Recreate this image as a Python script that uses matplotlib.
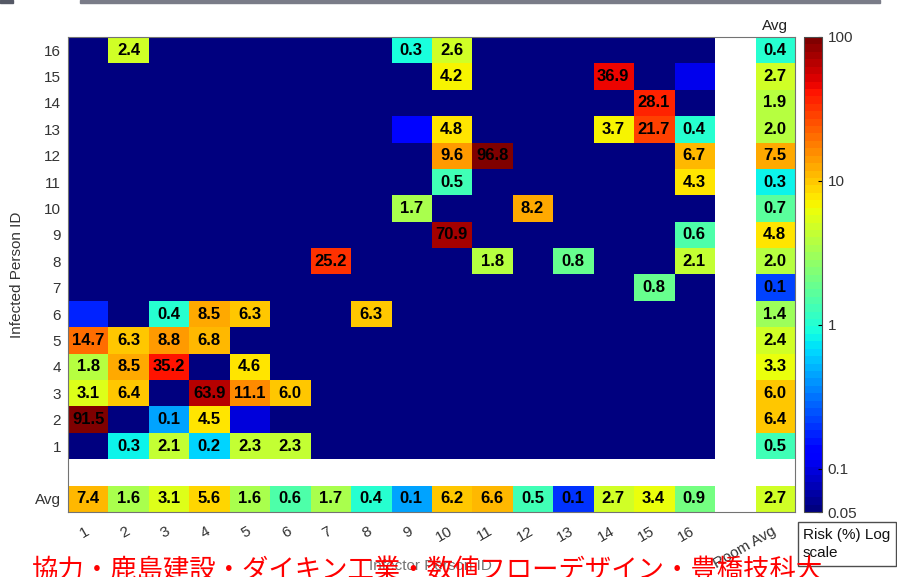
import numpy as np
import matplotlib.pyplot as plt
from matplotlib.colors import LogNorm
from matplotlib.cm import ScalarMappable
from matplotlib.patches import Rectangle
from matplotlib.ticker import NullLocator

plt.rcParams['font.family'] = ['Liberation Sans', 'Noto Sans CJK JP', 'DejaVu Sans']

# infector (columns) / infected (rows) ids
infector_ids = [str(i) for i in range(1, 17)]
infected_ids = [str(i) for i in range(16, 0, -1)]   # top -> bottom

# infection risk (%), rows = infected 16..1, cols = infector 1..16 (0 = none)
risk = [
    [0, 2.4, 0, 0, 0, 0, 0, 0, 0.32, 2.6, 0, 0, 0, 0, 0, 0],
    [0, 0, 0, 0, 0, 0, 0, 0, 0, 4.2, 0, 0, 0, 36.9, 0, 0.025],
    [0, 0, 0, 0, 0, 0, 0, 0, 0, 0, 0, 0, 0, 0, 28.1, 0],
    [0, 0, 0, 0, 0, 0, 0, 0, 0.035, 4.8, 0, 0, 0, 3.7, 21.7, 0.4],
    [0, 0, 0, 0, 0, 0, 0, 0, 0, 9.6, 96.8, 0, 0, 0, 0, 6.7],
    [0, 0, 0, 0, 0, 0, 0, 0, 0, 0.5, 0, 0, 0, 0, 0, 4.3],
    [0, 0, 0, 0, 0, 0, 0, 0, 1.7, 0, 0, 8.2, 0, 0, 0, 0],
    [0, 0, 0, 0, 0, 0, 0, 0, 0, 70.9, 0, 0, 0, 0, 0, 0.6],
    [0, 0, 0, 0, 0, 0, 25.2, 0, 0, 0, 1.8, 0, 0.8, 0, 0, 2.1],
    [0, 0, 0, 0, 0, 0, 0, 0, 0, 0, 0, 0, 0, 0, 0.8, 0],
    [0.045, 0, 0.4, 8.5, 6.3, 0, 0, 6.3, 0, 0, 0, 0, 0, 0, 0, 0],
    [14.7, 6.3, 8.8, 6.8, 0, 0, 0, 0, 0, 0, 0, 0, 0, 0, 0, 0],
    [1.8, 8.5, 35.2, 0, 4.6, 0, 0, 0, 0, 0, 0, 0, 0, 0, 0, 0],
    [3.1, 6.4, 0, 63.9, 11.1, 6.0, 0, 0, 0, 0, 0, 0, 0, 0, 0, 0],
    [91.5, 0, 0.14, 4.5, 0.022, 0, 0, 0, 0, 0, 0, 0, 0, 0, 0, 0],
    [0, 0.3, 2.1, 0.21, 2.3, 2.3, 0, 0, 0, 0, 0, 0, 0, 0, 0, 0],
]
row_avg = [0.4, 2.7, 1.9, 2.0, 7.5, 0.3, 0.7, 4.8, 2.0, 0.06, 1.4, 2.4, 3.3, 6.0, 6.4, 0.5]
col_avg = [7.4, 1.6, 3.1, 5.6, 1.6, 0.6, 1.7, 0.4, 0.14, 6.2, 6.6, 0.5, 0.055, 2.7, 3.4, 0.9]
room_avg = 2.7

# 18x18 grid with white gap row/column
grid = np.full((18, 18), np.nan)
grid[:16, :16] = risk
grid[:16, 17] = row_avg
grid[17, :16] = col_avg
grid[17, 17] = room_avg
shown = np.where(np.isnan(grid), np.nan, np.maximum(grid, 1e-4))

cmap = plt.get_cmap('jet', 64).copy()
cmap.set_bad('white')

fig = plt.figure(figsize=(8.97, 5.77), dpi=100)
ax = fig.add_axes([68/897, 1-512/577, 727/897, 475/577])
ax.imshow(np.ma.masked_invalid(shown), cmap=cmap, norm=LogNorm(0.01, 100),
          aspect='auto', interpolation='nearest', extent=(0.5, 18.5, 18.5, 0.5))

for i in range(18):
    for j in range(18):
        v = grid[i, j]
        if np.isfinite(v) and v >= 0.05:
            ax.text(j+1, i+1, f"{v:.1f}", ha='center', va='center',
                    fontsize=12, fontweight='bold', color='black')

ax.set_xticks(range(1, 19))
ax.set_xticklabels(infector_ids + ['', 'Room Avg'], rotation=30, ha='right',
                   va='center', rotation_mode='anchor', fontsize=11, color='#333333')
ax.set_yticks(range(1, 19))
ax.set_yticklabels(infected_ids + ['', 'Avg'], fontsize=11, color='#333333')
ax.tick_params(axis='x', length=0, pad=13)
ax.tick_params(axis='y', length=0, pad=5)
for s in ax.spines.values():
    s.set_color('0.45')
ax.set_ylabel('Infected Person ID', fontsize=11, color='#333333', labelpad=8)
ax.text(18, 0.1, 'Avg', ha='center', va='center', fontsize=11, color='#222222')

# colorbar
cax = fig.add_axes([804/897, 1-512/577, 18/897, 475/577])
sm = ScalarMappable(norm=LogNorm(0.05, 100), cmap=cmap)
cb = fig.colorbar(sm, cax=cax)
cb.set_ticks([0.05, 0.1, 1, 10, 100])
cb.set_ticklabels(['0.05', '0.1', '1', '10', '100'])
cax.yaxis.set_minor_locator(NullLocator())
cax.tick_params(direction='in', length=3, labelsize=11, labelcolor='#333333', pad=4)
cb.outline.set_edgecolor('0.3')

fig.text(803/897, 1-544/577, 'Risk (%) Log\nscale', fontsize=11, ha='left', va='center',
         linespacing=1.4, color='#111111',
         bbox=dict(boxstyle='square,pad=0.35', fc='white', ec='0.3', lw=1))

# x label, mostly hidden behind the credit line
fig.text(0.48, 11/577, 'Infector Person ID', fontsize=11, color='0.45', ha='center', va='center')
fig.text(0.477, 1-557/577, '協力・鹿島建設・ダイキン工業・数値フローデザイン・豊橋技科大',
         fontsize=19, color='red', ha='center', va='top', family=['Noto Sans CJK JP'], zorder=5)

# slide bar at top
fig.patches.append(Rectangle((80/897, 1-3/577), 800/897, 3/577, transform=fig.transFigure,
                             color='#7a7c88', zorder=0))
fig.patches.append(Rectangle((0, 1-3/577), 13/897, 3/577, transform=fig.transFigure,
                             color='#555966', zorder=0))

fig.savefig('out.png', dpi=100)
